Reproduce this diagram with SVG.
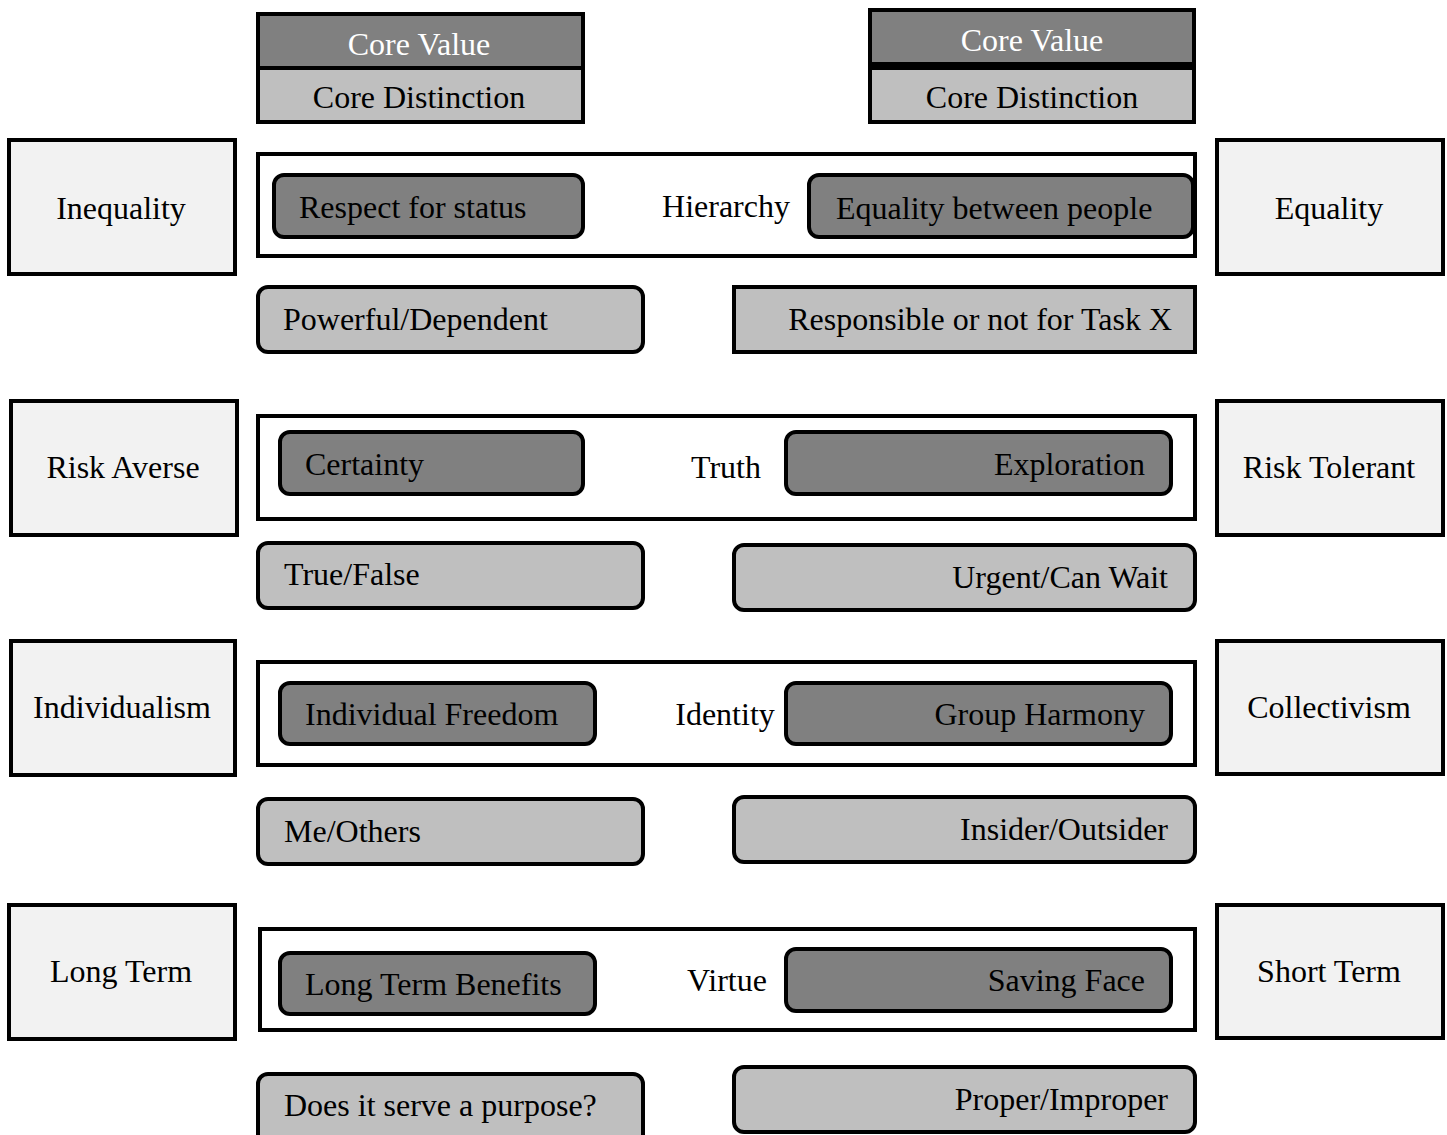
<svg xmlns="http://www.w3.org/2000/svg" width="1447" height="1135" viewBox="0 0 1447 1135">
<style>
text{font-family:'Liberation Serif','DejaVu Serif',serif;font-size:32px;fill:#000}
.c{text-anchor:middle}
.e{text-anchor:end}
.w{fill:#fff}
.side{fill:#f2f2f2;stroke:#000;stroke-width:4}
.frame{fill:#fff;stroke:#000;stroke-width:4}
.dark{fill:#808080;stroke:#000;stroke-width:4}
.light{fill:#bfbfbf;stroke:#000;stroke-width:4}
</style>
<rect width="1447" height="1135" fill="#fff"/>
<g id="legend-left">
<rect class="dark" x="258" y="14" width="325" height="54"/>
<text class="c w" x="419" y="55">Core Value</text>
<rect class="light" x="258" y="68" width="325" height="54"/>
<text class="c" x="419" y="108">Core Distinction</text>
</g>
<g id="legend-right">
<rect class="dark" x="870" y="10" width="324" height="54"/>
<text class="c w" x="1032" y="51">Core Value</text>
<rect class="light" x="870" y="68" width="324" height="54"/>
<text class="c" x="1032" y="108">Core Distinction</text>
</g>
<g id="connectors"></g>

<g id="inequality"><rect class="side" x="9" y="140" width="226" height="134"/><text class="c" x="121" y="219">Inequality</text></g>
<g id="hierarchy"><rect class="frame" x="258" y="154" width="937" height="102"/><text class="c" x="726" y="217">Hierarchy</text></g>
<g id="respect"><rect class="dark" x="274" y="175" width="309" height="62" rx="10"/><text x="299" y="218">Respect for status</text></g>
<g id="equality-people"><rect class="dark" x="809" y="175" width="384" height="62" rx="10"/><text x="836" y="219">Equality between people</text></g>
<g id="equality"><rect class="side" x="1217" y="140" width="226" height="134"/><text class="c" x="1329" y="219">Equality</text></g>
<g id="powerful"><rect class="light" x="258" y="287" width="385" height="65" rx="10"/><text x="283" y="330">Powerful/Dependent</text></g>
<g id="responsible"><rect class="light" x="734" y="287" width="461" height="65"/><text class="e" x="1172" y="330">Responsible or not for Task X</text></g>

<g id="risk-averse"><rect class="side" x="11" y="401" width="226" height="134"/><text class="c" x="123" y="478">Risk Averse</text></g>
<g id="truth"><rect class="frame" x="258" y="416" width="937" height="103"/><text class="c" x="726" y="478">Truth</text></g>
<g id="certainty"><rect class="dark" x="280" y="432" width="303" height="62" rx="10"/><text x="305" y="475">Certainty</text></g>
<g id="exploration"><rect class="dark" x="786" y="432" width="385" height="62" rx="10"/><text class="e" x="1145" y="475">Exploration</text></g>
<g id="risk-tolerant"><rect class="side" x="1217" y="401" width="226" height="134"/><text class="c" x="1329" y="478">Risk Tolerant</text></g>
<g id="true-false"><rect class="light" x="258" y="543" width="385" height="65" rx="10"/><text x="284" y="585">True/False</text></g>
<g id="urgent"><rect class="light" x="734" y="545" width="461" height="65" rx="10"/><text class="e" x="1168" y="588">Urgent/Can Wait</text></g>

<g id="individualism"><rect class="side" x="11" y="641" width="224" height="134"/><text class="c" x="122" y="718">Individualism</text></g>
<g id="identity"><rect class="frame" x="258" y="662" width="937" height="103"/><text class="c" x="725" y="725">Identity</text></g>
<g id="freedom"><rect class="dark" x="280" y="683" width="315" height="61" rx="10"/><text x="305" y="725">Individual Freedom</text></g>
<g id="harmony"><rect class="dark" x="786" y="683" width="385" height="61" rx="10"/><text class="e" x="1145" y="725">Group Harmony</text></g>
<g id="collectivism"><rect class="side" x="1217" y="641" width="226" height="133"/><text class="c" x="1329" y="718">Collectivism</text></g>
<g id="me-others"><rect class="light" x="258" y="799" width="385" height="65" rx="10"/><text x="284" y="842">Me/Others</text></g>
<g id="insider"><rect class="light" x="734" y="797" width="461" height="65" rx="10"/><text class="e" x="1168" y="840">Insider/Outsider</text></g>

<g id="long-term"><rect class="side" x="9" y="905" width="226" height="134"/><text class="c" x="121" y="982">Long Term</text></g>
<g id="virtue"><rect class="frame" x="260" y="929" width="935" height="101"/><text class="c" x="727" y="991">Virtue</text></g>
<g id="long-benefits"><rect class="dark" x="280" y="953" width="315" height="61" rx="10"/><text x="305" y="995">Long Term Benefits</text></g>
<g id="saving-face"><rect class="dark" x="786" y="949" width="385" height="62" rx="10"/><text class="e" x="1145" y="991">Saving Face</text></g>
<g id="short-term"><rect class="side" x="1217" y="905" width="226" height="133"/><text class="c" x="1329" y="982">Short Term</text></g>
<g id="purpose"><rect class="light" x="258" y="1074" width="385" height="70" rx="10"/><text x="284" y="1116">Does it serve a purpose?</text></g>
<g id="proper"><rect class="light" x="734" y="1067" width="461" height="65" rx="10"/><text class="e" x="1168" y="1110">Proper/Improper</text></g>
</svg>
